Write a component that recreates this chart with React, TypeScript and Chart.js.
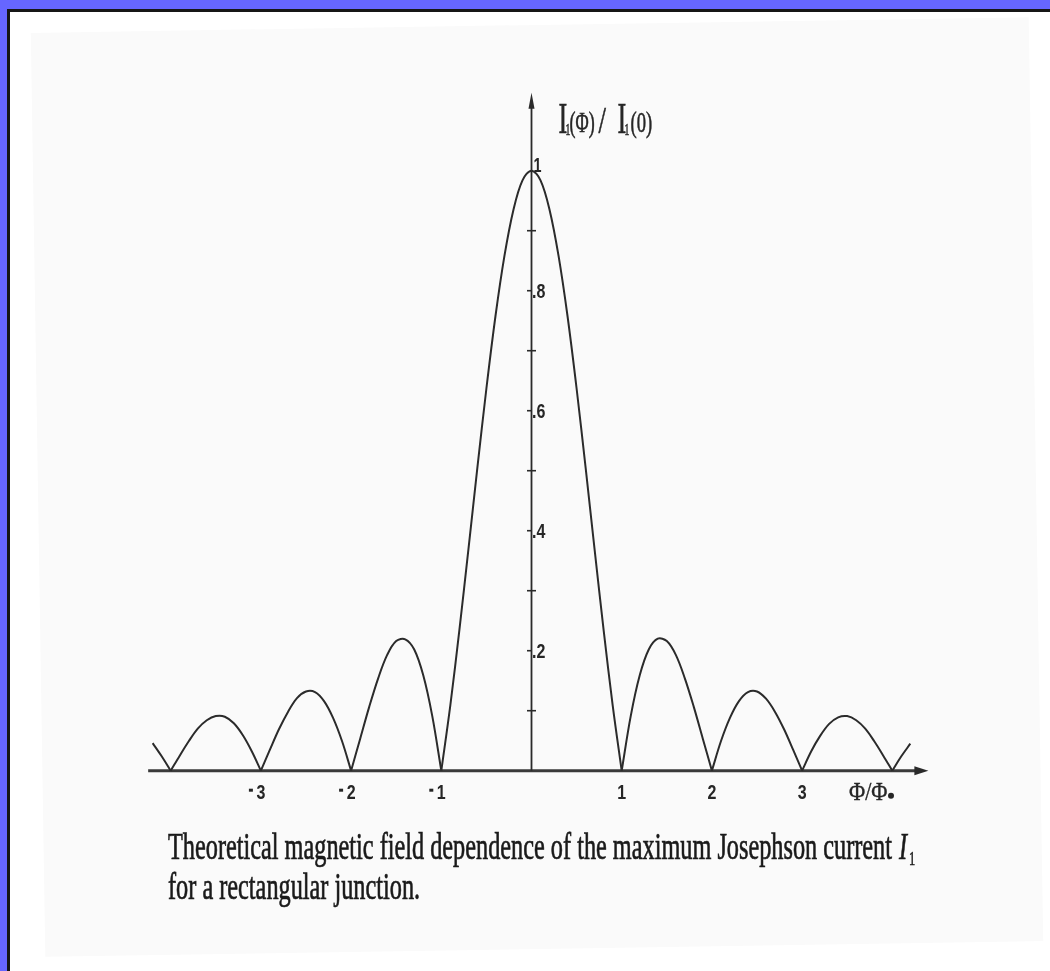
import { useEffect, useRef } from "react";
import { Chart, registerables } from "chart.js";

Chart.register(...registerables);

// Normalised flux Φ/Φ0 and critical current I1(Φ)/I1(0)
const fluxRatio = [
  -4.2, -4.1, -4.0, -3.9, -3.8, -3.7, -3.6, -3.5, -3.4, -3.3, -3.2, -3.1,
  -3.0, -2.9, -2.8, -2.7, -2.6, -2.5, -2.4, -2.3, -2.2, -2.1, -2.0, -1.9,
  -1.8, -1.7, -1.6, -1.5, -1.4, -1.3, -1.2, -1.1, -1.0, -0.9, -0.8, -0.7,
  -0.6, -0.5, -0.4, -0.3, -0.2, -0.1, 0.0, 0.1, 0.2, 0.3, 0.4, 0.5, 0.6,
  0.7, 0.8, 0.9, 1.0, 1.1, 1.2, 1.3, 1.4, 1.5, 1.6, 1.7, 1.8, 1.9, 2.0,
  2.1, 2.2, 2.3, 2.4, 2.5, 2.6, 2.7, 2.8, 2.9, 3.0, 3.1, 3.2, 3.3, 3.4,
  3.5, 3.6, 3.7, 3.8, 3.9, 4.0, 4.1, 4.2,
];
const currentRatio = [
  0.046, 0.024, 0, 0.025, 0.049, 0.070, 0.084, 0.091, 0.090, 0.079, 0.059,
  0.032, 0, 0.035, 0.069, 0.098, 0.121, 0.132, 0.131, 0.116, 0.088, 0.049,
  0, 0.053, 0.106, 0.154, 0.193, 0.216, 0.219, 0.202, 0.159, 0.091, 0,
  0.109, 0.234, 0.368, 0.505, 0.637, 0.757, 0.858, 0.935, 0.984, 1.0,
  0.984, 0.935, 0.858, 0.757, 0.637, 0.505, 0.368, 0.234, 0.109, 0,
  0.091, 0.159, 0.202, 0.220, 0.216, 0.193, 0.154, 0.106, 0.053, 0,
  0.049, 0.088, 0.116, 0.131, 0.132, 0.120, 0.098, 0.069, 0.035, 0,
  0.032, 0.058, 0.078, 0.089, 0.091, 0.084, 0.070, 0.049, 0.025, 0,
  0.024, 0.045,
];

const xTickValues = [-3, -2, -1, 1, 2, 3];
const xTickLabels = ["-3", "-2", "-1", "1", "2", "3"];
const yTickValues = [0.1, 0.2, 0.3, 0.4, 0.5, 0.6, 0.7, 0.8, 0.9];
const yTickLabels = ["", ".2", "", ".4", "", ".6", "", ".8", ""];
const yTopLabel = "1";

const xAxisEnd = { min: -4.25, max: 4.4 };
const yAxisEnd = 1.13;

const captionLine1 =
  "Theoretical magnetic field dependence of the maximum Josephson current";
const captionLine2 = "for a rectangular junction.";

const INK = "#262626";
const SERIF = '"Liberation Serif", "DejaVu Serif", serif';
const SANS = '"Liberation Sans", Arial, sans-serif';

// split the curve into lobes at its zeros so each cusp stays sharp
function buildLobes() {
  const lobes: { x: number; y: number }[][] = [];
  let cur: { x: number; y: number }[] = [];
  fluxRatio.forEach((x, i) => {
    const p = { x, y: currentRatio[i] };
    cur.push(p);
    if (currentRatio[i] === 0 && cur.length > 1) {
      lobes.push(cur);
      cur = [p];
    }
  });
  if (cur.length > 1) lobes.push(cur);
  return lobes;
}

function squeezed(
  ctx: CanvasRenderingContext2D,
  text: string,
  x: number,
  y: number,
  font: string,
  sx: number,
  align: CanvasTextAlign = "left",
  heavy = 0
) {
  ctx.save();
  ctx.font = font;
  ctx.textAlign = align;
  ctx.textBaseline = "alphabetic";
  ctx.translate(x, y);
  ctx.scale(sx, 1);
  ctx.fillText(text, 0, 0);
  if (heavy > 0) {
    ctx.lineWidth = heavy;
    ctx.strokeStyle = ctx.fillStyle as string;
    ctx.strokeText(text, 0, 0);
  }
  ctx.restore();
}

const axesPlugin = {
  id: "fluxAxes",
  beforeDatasetsDraw(chart: any) {
    const ctx: CanvasRenderingContext2D = chart.ctx;
    const xs = chart.scales.x;
    const ys = chart.scales.y;
    const x0 = xs.getPixelForValue(0);
    const y0 = ys.getPixelForValue(0);
    ctx.save();
    ctx.strokeStyle = "#3a3a3a";
    ctx.fillStyle = "#2a2a2a";
    // horizontal axis with arrow
    const xl = xs.getPixelForValue(xAxisEnd.min);
    const xr = xs.getPixelForValue(xAxisEnd.max);
    ctx.lineWidth = 3;
    ctx.beginPath();
    ctx.moveTo(xl, y0);
    ctx.lineTo(xr - 8, y0);
    ctx.stroke();
    ctx.beginPath();
    ctx.moveTo(xr, y0);
    ctx.lineTo(xr - 14, y0 - 4.5);
    ctx.lineTo(xr - 14, y0 + 4.5);
    ctx.closePath();
    ctx.fill();
    // vertical axis with arrow
    const yt = ys.getPixelForValue(yAxisEnd);
    ctx.lineWidth = 1.8;
    ctx.strokeStyle = "#2a2a2a";
    ctx.beginPath();
    ctx.moveTo(x0, y0);
    ctx.lineTo(x0, yt + 10);
    ctx.stroke();
    ctx.beginPath();
    ctx.moveTo(x0, yt);
    ctx.lineTo(x0 - 3, yt + 16);
    ctx.lineTo(x0 + 3, yt + 16);
    ctx.closePath();
    ctx.fill();
    // vertical tick marks
    ctx.lineWidth = 1.6;
    yTickValues.forEach((v, i) => {
      const py = ys.getPixelForValue(v);
      ctx.beginPath();
      ctx.moveTo(x0 - 4.5, py);
      ctx.lineTo(x0 + (yTickLabels[i] ? 0 : 4.5), py);
      ctx.stroke();
    });
    ctx.restore();
  },
  afterDatasetsDraw(chart: any) {
    const ctx: CanvasRenderingContext2D = chart.ctx;
    const xs = chart.scales.x;
    const ys = chart.scales.y;
    const x0 = xs.getPixelForValue(0);
    const y0 = ys.getPixelForValue(0);
    ctx.save();
    ctx.fillStyle = INK;

    // x tick labels: digit centred on the value, sign in front
    const tickFont = `bold 20px ${SANS}`;
    xTickValues.forEach((v, i) => {
      const px = xs.getPixelForValue(v);
      const label = xTickLabels[i];
      const digit = label.replace("-", "");
      squeezed(ctx, digit, px, y0 + 28, tickFont, 0.8, "center");
      if (label.startsWith("-")) {
        ctx.fillRect(px - 12, y0 + 18, 4, 3);
      }
    });

    // y tick labels
    yTickValues.forEach((v, i) => {
      const label = yTickLabels[i];
      if (!label) return;
      const py = ys.getPixelForValue(v);
      squeezed(ctx, label, x0 + 0.5, py + 7, `bold 20px ${SANS}`, 0.8);
    });
    squeezed(
      ctx,
      yTopLabel,
      x0 + 2,
      ys.getPixelForValue(1) + 1,
      `bold 20px ${SANS}`,
      0.72
    );

    // axis titles
    const bx = xs.getPixelForValue(3.52);
    squeezed(ctx, "Φ/Φ", bx, y0 + 29, `26px ${SERIF}`, 0.85, "left", 0.4);
    ctx.beginPath();
    ctx.arc(bx + 42, y0 + 25, 3, 0, Math.PI * 2);
    ctx.fill();

    const ly = ys.getPixelForValue(1.063);
    const lx = x0 + 27;
    const h = 0.6;
    squeezed(ctx, "I", lx, ly, `44px ${SERIF}`, 0.6, "left", h);
    squeezed(ctx, "1", lx + 7, ly + 2, `16px ${SERIF}`, 0.6, "left", h);
    squeezed(ctx, "(Φ)", lx + 11, ly - 1, `30px ${SERIF}`, 0.6, "left", h);
    squeezed(ctx, "/", lx + 40, ly, `38px ${SERIF}`, 0.7, "left", h);
    squeezed(ctx, "I", lx + 59, ly, `44px ${SERIF}`, 0.6, "left", h);
    squeezed(ctx, "1", lx + 66, ly + 2, `16px ${SERIF}`, 0.6, "left", h);
    squeezed(ctx, "(0)", lx + 72, ly - 1, `30px ${SERIF}`, 0.62, "left", h);

    // caption, typeset in a narrow book face
    ctx.fillStyle = "#1a1a1a";
    const capFont = `37px ${SERIF}`;
    ctx.font = capFont;
    const natural = ctx.measureText(captionLine1).width;
    const sx = (892 - 168) / natural;
    squeezed(ctx, captionLine1, 168, 859, capFont, sx, "left", 0.7);
    squeezed(ctx, "I", 899, 859, `italic 37px ${SERIF}`, sx, "left", 0.7);
    squeezed(ctx, "1", 909, 865, `19px ${SERIF}`, sx, "left", 0.5);
    squeezed(ctx, captionLine2, 168, 899, capFont, sx, "left", 0.7);
    ctx.restore();
  },
};

export default function App() {
  const canvasRef = useRef<HTMLCanvasElement | null>(null);

  useEffect(() => {
    const canvas = canvasRef.current;
    if (!canvas) return;
    const lobes = buildLobes();
    const chart = new Chart(canvas, {
      type: "line",
      data: {
        datasets: lobes.map((pts) => ({
          data: pts,
          borderColor: "#2b2b2b",
          borderWidth: 2,
          pointRadius: 0,
          fill: false,
          tension: 0.35,
        })),
      },
      options: {
        animation: false,
        responsive: false,
        devicePixelRatio: 1,
        layout: {
          padding: { left: 125.6, right: 112.6, top: 80.7, bottom: 20.3 },
        },
        scales: {
          x: { type: "linear", min: -4.5, max: 4.5, display: false },
          y: { type: "linear", min: -0.3, max: 1.15, display: false },
        },
        plugins: {
          legend: { display: false },
          tooltip: { enabled: false },
          title: { display: false },
        },
      },
      plugins: [axesPlugin],
    });
    return () => chart.destroy();
  }, []);

  return (
    <div
      style={{
        position: "fixed",
        left: 0,
        top: 0,
        width: 1050,
        height: 971,
        background: "#6666ff",
        overflow: "hidden",
      }}
    >
      <div
        style={{
          position: "absolute",
          left: 7,
          top: 9,
          right: 0,
          bottom: 0,
          background: "#ffffff",
          borderLeft: "3px solid #161616",
          borderTop: "3px solid #161616",
        }}
      />
      <div
        style={{
          position: "absolute",
          left: 38,
          top: 25,
          width: 998,
          height: 924,
          background: "#fafafa",
          transform: "rotate(-0.9deg)",
        }}
      />
      <canvas
        ref={canvasRef}
        width={1050}
        height={971}
        style={{ position: "absolute", left: 0, top: 0 }}
      />
    </div>
  );
}
